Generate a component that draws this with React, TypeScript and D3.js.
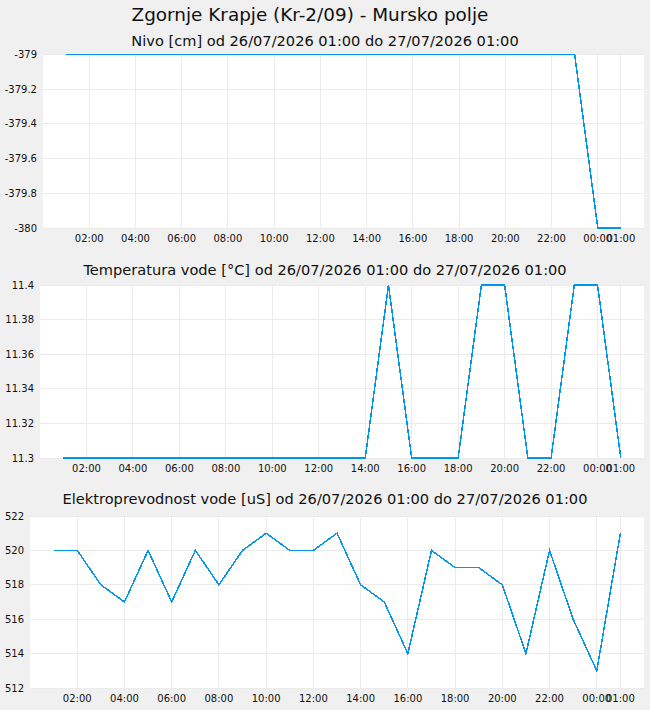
import * as d3 from "d3";

// hourly readings 26/07/2026 01:00 -> 27/07/2026 01:00
const hours = [
  "2026-07-26T01:00", "2026-07-26T02:00", "2026-07-26T03:00", "2026-07-26T04:00",
  "2026-07-26T05:00", "2026-07-26T06:00", "2026-07-26T07:00", "2026-07-26T08:00",
  "2026-07-26T09:00", "2026-07-26T10:00", "2026-07-26T11:00", "2026-07-26T12:00",
  "2026-07-26T13:00", "2026-07-26T14:00", "2026-07-26T15:00", "2026-07-26T16:00",
  "2026-07-26T17:00", "2026-07-26T18:00", "2026-07-26T19:00", "2026-07-26T20:00",
  "2026-07-26T21:00", "2026-07-26T22:00", "2026-07-26T23:00", "2026-07-27T00:00",
  "2026-07-27T01:00",
];

const nivo = [
  -379, -379, -379, -379, -379, -379, -379, -379, -379, -379, -379, -379, -379,
  -379, -379, -379, -379, -379, -379, -379, -379, -379, -379, -380, -380,
];

const temperatura = [
  11.3, 11.3, 11.3, 11.3, 11.3, 11.3, 11.3, 11.3, 11.3, 11.3, 11.3, 11.3, 11.3,
  11.3, 11.4, 11.3, 11.3, 11.3, 11.4, 11.4, 11.3, 11.3, 11.4, 11.4, 11.3,
];

const prevodnost = [
  520, 520, 518, 517, 520, 517, 520, 518, 520, 521, 520, 520, 521,
  518, 517, 514, 520, 519, 519, 518, 514, 520, 516, 513, 521,
];

const nivoTicks = [-380, -379.8, -379.6, -379.4, -379.2, -379];
const tempTicks = [11.3, 11.32, 11.34, 11.36, 11.38, 11.4];
const prevTicks = [512, 514, 516, 518, 520, 522];

const mainTitle = "Zgornje Krapje (Kr-2/09) - Mursko polje";
const range = "od 26/07/2026 01:00 do 27/07/2026 01:00";

const parse = d3.timeParse("%Y-%m-%dT%H:%M");
const times = hours.map((h) => parse(h) as Date);

const width = 650;
const height = 710;
const lineColor = "#0096ee";
const gridColor = "#ebebeb";
const font = "DejaVu Sans, sans-serif";

const panels = [
  { title: `Nivo [cm] ${range}`, values: nivo, ticks: nivoTicks, top: 54.5, bottom: 228, left: 43, titleY: 46 },
  { title: `Temperatura vode [°C] ${range}`, values: temperatura, ticks: tempTicks, top: 285, bottom: 458, left: 40, titleY: 275 },
  { title: `Elektroprevodnost vode [uS] ${range}`, values: prevodnost, ticks: prevTicks, top: 516, bottom: 688, left: 30, titleY: 504 },
];

function Panel({ p }: { p: (typeof panels)[number] }) {
  const right = 644;
  const start = d3.timeHour.offset(times[0], -1);
  const end = d3.timeHour.offset(times[times.length - 1], 1);
  const x = d3.scaleTime().domain([start, end]).range([p.left, right]);
  const y = d3
    .scaleLinear()
    .domain([p.ticks[0], p.ticks[p.ticks.length - 1]])
    .range([p.bottom, p.top]);

  // every 2 hours, plus the last reading
  const xTicks = d3
    .timeHour.every(2)!
    .range(times[0], times[times.length - 1])
    .concat([times[times.length - 1]]);
  const fmtTime = d3.timeFormat("%H:%M");

  const line = d3
    .line<number>()
    .x((_, i) => x(times[i]))
    .y((d) => y(d));

  return (
    <g>
      <text x={325} y={p.titleY} textAnchor="middle" fontSize={14.6} fill="#111">
        {p.title}
      </text>
      <rect x={p.left} y={p.top} width={right - p.left} height={p.bottom - p.top} fill="#fff" />
      <g stroke={gridColor} strokeWidth={1} shapeRendering="crispEdges">
        {p.ticks.map((t) => (
          <line key={t} x1={p.left} x2={right} y1={y(t)} y2={y(t)} />
        ))}
        {xTicks.map((t) => (
          <line key={+t} x1={x(t)} x2={x(t)} y1={p.top} y2={p.bottom} />
        ))}
      </g>
      <path
        d={line(p.values) ?? ""}
        fill="none"
        stroke={lineColor}
        strokeWidth={1.5}
        shapeRendering="crispEdges"
      />
      <g fontSize={10} fill="#111">
        {p.ticks.map((t) => (
          <text key={t} x={p.left - 6} y={y(t)} dy="0.35em" textAnchor="end">
            {String(t)}
          </text>
        ))}
        {xTicks.map((t) => (
          <text key={+t} x={x(t)} y={p.bottom + 14} textAnchor="middle">
            {fmtTime(t)}
          </text>
        ))}
      </g>
    </g>
  );
}

export default function App() {
  return (
    <svg
      width={width}
      height={height}
      style={{ position: "absolute", left: 0, top: 0, fontFamily: font }}
    >
      <rect width={width} height={height} fill="#f0f0f0" />
      <text x={310} y={21} textAnchor="middle" fontSize={18.4} fill="#111">
        {mainTitle}
      </text>
      {panels.map((p, i) => (
        <Panel key={i} p={p} />
      ))}
    </svg>
  );
}
